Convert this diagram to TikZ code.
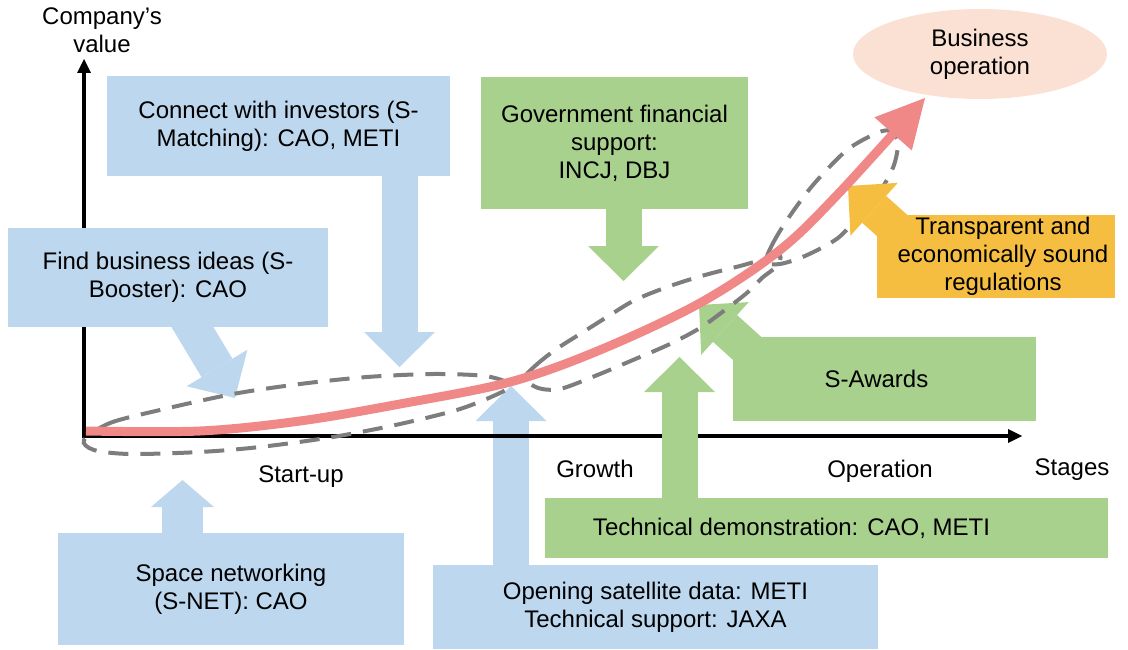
\documentclass[tikz,border=0pt]{standalone}
\usepackage{fontspec}
\setmainfont{Liberation Sans}
\usetikzlibrary{arrows.meta,shapes.geometric,calc}
\definecolor{boxblue}{RGB}{189,215,238}
\definecolor{boxgreen}{RGB}{169,209,142}
\definecolor{boxyellow}{RGB}{245,190,65}
\definecolor{curvered}{RGB}{240,136,136}
\definecolor{ovalpink}{RGB}{251,225,212}
\definecolor{dashgray}{RGB}{125,125,125}
\begin{document}
\begin{tikzpicture}[x=1pt,y=-1pt,
  every node/.style={font=\fontsize{24}{28}\selectfont, inner sep=0pt, outer sep=0pt},
  panel/.style={rectangle, draw=none, align=center, anchor=north west},
  bluepanel/.style={panel, fill=boxblue},
  greenpanel/.style={panel, fill=boxgreen},
  yellowpanel/.style={panel, fill=boxyellow},
  fat/.style={line width=36pt, line cap=butt, -{Triangle[length=35pt,width=71pt,line width=0pt]}},
  fatnet/.style={line width=41pt, line cap=butt, -{Triangle[length=27pt,width=63pt,line width=0pt]}},
  axisline/.style={line width=3.5pt, black, -{Triangle[length=14pt,width=14pt,line width=0pt]}},
  stageellipse/.style={draw=dashgray, line width=4pt, dash pattern=on 20pt off 12pt},
  growthcurve/.style={draw=curvered, line width=9pt, -{Triangle[length=48pt,width=50pt,line width=0pt]}},
  axislabel/.style={anchor=base}
]
\useasboundingbox (0,0) rectangle (1128,650);

% bottom blue panels and their arrows (below the axes)
\node[bluepanel, minimum width=346pt, minimum height=112pt] (spacenet) at (58,533)
  {Space networking\\(S-NET): CAO};
\node[bluepanel, minimum width=445pt, minimum height=84pt] (opening) at (433,565)
  {Opening satellite data: METI\\Technical support: JAXA};
\coordinate (tipNet) at (182.5,480);
\coordinate (tipOpen) at (511,386);
\draw[fatnet, boxblue] ($(spacenet.north -| tipNet)+(0,2)$) -- (tipNet);
\draw[fat, boxblue] ($(opening.north -| tipOpen)+(0,2)$) -- (tipOpen);

% axes
\coordinate (origin) at (84,436);
\coordinate (xend) at (1022,436);
\coordinate (yend) at (84,59);
\draw[axisline] ($(origin)+(-1.75,0)$) -- (xend);
\draw[axisline] ($(origin)+(0,1.75)$) -- (yend);

% upper blue panels
\node[bluepanel, minimum width=343pt, minimum height=100pt] (connect) at (107,76)
  {Connect with investors (S-\\Matching): CAO, METI};
\node[bluepanel, minimum width=320pt, minimum height=99pt] (findbiz) at (8,228)
  {Find business ideas (S-\\Booster): CAO};
\coordinate (tipConnect) at (399.5,367);
\coordinate (tipIdea) at (235,398);
\draw[fat, boxblue] ($(connect.south -| tipConnect)+(0,-2)$) -- (tipConnect);
\draw[fat, boxblue] ($(findbiz.south west)+(179,-9)$) -- (tipIdea);

% green panels
\node[greenpanel, minimum width=267pt, minimum height=132pt] (gov) at (481,77)
  {Government financial\\support:\\INCJ, DBJ};
\node[greenpanel, minimum width=303pt, minimum height=84pt] (sawards) at (733,337)
  {S-Awards\hspace*{16pt}};
\node[greenpanel, minimum width=563pt, minimum height=60pt] (techdemo) at (545,498)
  {Technical demonstration: CAO, METI\hspace*{70pt}};
\coordinate (tipGov) at (623.5,281);
\coordinate (tipTech) at (679.5,357);
\coordinate (tipAward) at (699,305);
\draw[fat, boxgreen] ($(gov.south -| tipGov)+(0,-2)$) -- (tipGov);
\draw[fat, boxgreen] ($(techdemo.north -| tipTech)+(0,2)$) -- (tipTech);
\draw[fat, boxgreen] ($(sawards.north west)+(27,23)$) -- (tipAward);

% dashed stage ellipses
\draw[stageellipse] plot[smooth cycle] coordinates {
  (84,440) (110,423) (160,410) (233,394) (300,384) (367,377) (433,374) (485,376)
  (510,384) (502,392) (460,409) (400,424) (333,437) (260,447) (200,452) (130,454) (94,450)};
\draw[stageellipse] plot[smooth cycle] coordinates {
  (525,378) (535,366) (555,350) (580,334) (607,317) (635,300) (670,286) (705,275)
  (740,266) (765,259) (780,256) (777,266) (762,278) (748,292) (725,310) (700,328)
  (670,344) (633,360) (595,376) (560,389) (538,388)};
\draw[stageellipse] plot[smooth cycle] coordinates {
  (766,262) (772,245) (787,220) (813,185) (847,150) (877,133) (890,131) (898,142)
  (894,165) (882,188) (862,212) (838,238) (805,256) (780,264)};

% yellow panel
\node[yellowpanel, minimum width=238pt, minimum height=83pt] (regs) at (877,215)
  {\hspace*{14pt}Transparent and\\\hspace*{14pt}economically sound\\\hspace*{14pt}regulations};
\coordinate (tipRegs) at (848,186);
\draw[fat, boxyellow] ($(regs.north west)+(28,22)$) -- (tipRegs);

% goal
\node[ellipse, fill=ovalpink, minimum width=254pt, minimum height=90pt, align=center] (bizop)
  at (980,54) {Business\\operation};

% growth curve
\coordinate (redstart) at (86,431);
\coordinate (redtip) at (925,98);
\draw[growthcurve] plot[smooth, tension=0.55] coordinates {
  (redstart) (200,431) (300,421) (400,404) (510,382) (600,350)
  (700,303) (780,250) (840,192) (redtip)};

% axis labels
\node[align=center, anchor=north] (ylabel) at (102,8) {Company's\\value};
\node[axislabel] (stages) at (1072,475) {Stages};
\node[axislabel] (startup) at (301,482) {Start-up};
\node[axislabel] (growth) at (595,477) {Growth};
\node[axislabel] (operation) at (880,477) {Operation};
\end{tikzpicture}
\end{document}
